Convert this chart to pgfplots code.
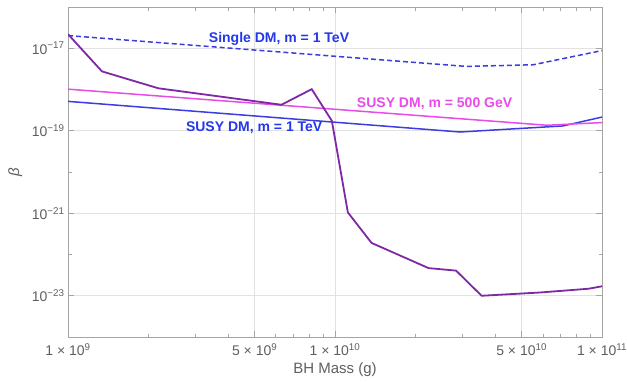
\documentclass[border=0pt]{standalone}
\usepackage{fontspec}
\setmainfont{Liberation Sans}
\usepackage{pgfplots}
\pgfplotsset{compat=1.18}
\definecolor{dmblue}{RGB}{60,60,225}
\definecolor{txtblue}{RGB}{35,55,235}
\definecolor{susymag}{RGB}{232,75,232}
\definecolor{purp}{RGB}{125,40,165}
\definecolor{tickgray}{RGB}{95,95,95}
\definecolor{framegray}{RGB}{165,165,165}
\definecolor{gridgray}{RGB}{226,226,226}
\begin{document}
\begin{tikzpicture}
\useasboundingbox (-68pt,-46pt) rectangle (559pt,337pt);
\begin{axis}[
  at={(0,0)}, anchor=south west, scale only axis, width=534pt, height=330pt,
  xmode=log, ymode=log, xmin=1e9, xmax=1e11, ymin=1e-24, ymax=1e-16,
  xtick={1e9,5e9,1e10,5e10,1e11},
  xticklabels={{1 × 10\textsuperscript{9}},{5 × 10\textsuperscript{9}},{1 × 10\textsuperscript{10}},{5 × 10\textsuperscript{10}},{1 × 10\textsuperscript{11}}},
  minor xtick={2e9,3e9,4e9,6e9,7e9,8e9,9e9,2e10,3e10,4e10,6e10,7e10,8e10,9e10},
  ytick={1e-23,1e-21,1e-19,1e-17},
  yticklabels={{10\textsuperscript{−23}},{10\textsuperscript{−21}},{10\textsuperscript{−19}},{10\textsuperscript{−17}}},
  minor ytick={1e-24,1e-22,1e-20,1e-18,1e-16},
  xmajorgrids, ymajorgrids,
  grid style={gridgray, line width=0.8pt},
  axis line style={framegray, line width=0.8pt},
  tick style={framegray, line width=0.6pt},
  major tick length=6pt, minor tick length=3.5pt,
  tick label style={font=\fontsize{14}{16}\selectfont, text=tickgray},
  xticklabel style={yshift=-3pt},
  xlabel={BH Mass (g)}, ylabel={\itshape β},
  label style={font=\fontsize{15}{18}\selectfont, text=tickgray},
  xlabel style={at={(axis description cs:0.5,-0.1)}, anchor=center},
  ylabel style={at={(axis description cs:-0.099,0.5)}, anchor=center},
]
\addplot[dmblue, line width=1.5pt, dash pattern=on 5pt off 3pt] coordinates {
  (1e9,2.03e-17) (3.1e10,3.63e-18) (5.52e10,3.98e-18) (1e11,8.79e-18)};
\addplot[dmblue, line width=1.5pt] coordinates {
  (1e9,5.16e-19) (2.94e10,9.33e-20) (7.14e10,1.31e-19) (1e11,2.15e-19)};
\addplot[susymag, line width=1.5pt] coordinates {
  (1e9,1.02e-18) (6.22e10,1.36e-19) (1e11,1.58e-19)};
\addplot[purp, line width=1.8pt] coordinates {
  (1e9,2.19e-17) (1.34e9,2.75e-18) (2.18e9,1.07e-18) (6.3e9,4.27e-19)
  (8.18e9,1.02e-18) (9.73e9,1.74e-19) (1.117e10,1.05e-21) (1.37e10,1.91e-22)
  (2.24e10,4.68e-23) (2.84e10,4.07e-23) (3.54e10,1.0e-23) (5.86e10,1.20e-23)
  (8.9e10,1.48e-23) (1e11,1.70e-23)};
\node[font=\bfseries\fontsize{14}{16}\selectfont, text=txtblue] at (axis cs:6.17e9,1.714e-17) {Single DM, m = 1 TeV};
\node[font=\bfseries\fontsize{14}{16}\selectfont, text=susymag] at (axis cs:2.36e10,4.54e-19) {SUSY DM, m = 500 GeV};
\node[font=\bfseries\fontsize{14}{16}\selectfont, text=txtblue] at (axis cs:4.98e9,1.16e-19) {SUSY DM, m = 1 TeV};
\end{axis}
\end{tikzpicture}
\end{document}
